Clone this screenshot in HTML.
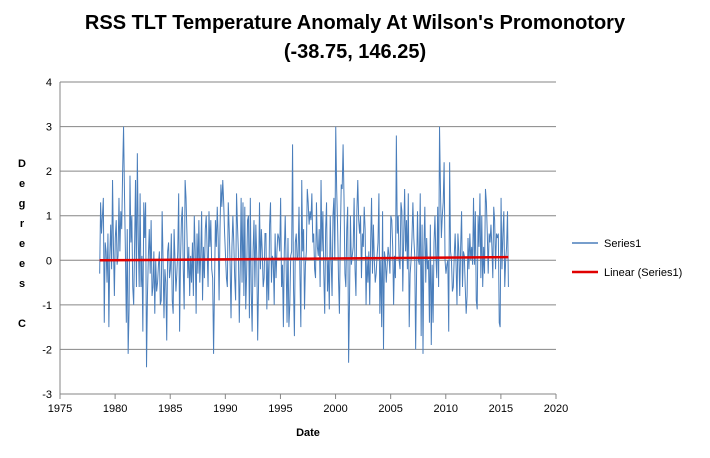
<!DOCTYPE html>
<html><head><meta charset="utf-8"><style>
body{margin:0;background:#fff;width:710px;height:453px;overflow:hidden;font-family:"Liberation Sans",Arial,sans-serif}
svg text{font-family:"Liberation Sans",Arial,sans-serif}
</style></head><body>
<svg width="710" height="453">
<text x="355" y="29" text-anchor="middle" font-size="20" font-weight="bold">RSS TLT Temperature Anomaly At Wilson's Promonotory</text>
<text x="355" y="58" text-anchor="middle" font-size="20" font-weight="bold">(-38.75, 146.25)</text>
<g id="grid"></g><g id="axes"></g>
<g font-size="11" font-weight="bold">
<text x="22" y="167" text-anchor="middle">D</text><text x="22" y="187" text-anchor="middle">e</text><text x="22" y="207" text-anchor="middle">g</text><text x="22" y="227" text-anchor="middle">r</text><text x="22" y="247" text-anchor="middle">e</text><text x="22" y="267" text-anchor="middle">e</text><text x="22" y="287" text-anchor="middle">s</text><text x="22" y="327" text-anchor="middle">C</text></g>
<text x="308" y="436" text-anchor="middle" font-size="11" font-weight="bold">Date</text>
<polyline id="series" fill="none" stroke="#4a7ebb" stroke-width="1"/>
<line id="trend" stroke="#e00000" stroke-width="2.5"/>
<g>
<line x1="572" y1="243" x2="598" y2="243" stroke="#4a7ebb" stroke-width="1.5"/>
<text x="604" y="247" font-size="11">Series1</text>
<line x1="572" y1="272" x2="598" y2="272" stroke="#e00000" stroke-width="2.5"/>
<text x="604" y="276" font-size="11">Linear (Series1)</text></g>
</svg>
<script>
const startYear = 1978.6;
const yTicks = [4,3,2,1,0,-1,-2,-3];
const xTicks = [1975,1980,1985,1990,1995,2000,2005,2010,2015,2020];
const trendStart = 0.0, trendEnd = 0.07;
const values = [
-0.3,1.3,0.6,1.0,1.4,
-1.4,0.4,0.2,-0.5,0.6,-1.5,0.1,0.8,-0.2,1.8,0.3,-0.8,
0.5,0.9,-0.1,0.1,1.4,0.2,1.1,0.7,2.0,3.0,1.5,0.2,
-1.4,0.7,-2.1,-1.1,1.9,0.4,1.0,-0.6,-1.0,0.3,1.8,-0.6,
2.4,0.5,-0.6,1.5,-0.6,0.1,-1.6,1.3,0.5,1.3,-2.4,-0.8,
0.1,0.7,-0.3,0.9,-0.8,-0.6,0.2,-1.2,0.0,-0.7,-0.5,-0.1,
0.2,-1.0,-0.9,1.1,0.0,-1.3,-0.2,-0.5,-1.8,0.2,0.4,-0.4,
-0.2,0.6,-0.9,-1.2,0.7,0.0,-0.7,-0.3,0.2,1.5,-1.6,0.0,
0.9,1.2,-0.2,-1.1,1.8,1.4,0.6,-0.4,0.3,-0.8,0.1,-0.5,
0.4,-0.8,1.0,0.2,-1.2,0.6,-0.3,0.9,-0.5,0.1,1.1,-0.9,0.3,-0.4,
0.7,1.0,0.2,-0.6,1.1,0.3,0.9,-0.2,-0.4,-2.1,-0.6,0.9,
0.3,1.2,0.5,-0.9,0.7,1.7,1.2,1.8,1.3,0.6,0.1,-0.4,
-0.6,1.3,0.7,-0.1,-1.3,0.3,1.0,0.4,-0.4,-0.9,1.5,0.8,
0.2,-1.4,-0.2,1.4,-0.5,1.3,-0.8,1.2,-1.1,-0.3,0.9,1.0,
-1.3,1.4,-0.7,-1.6,0.2,0.9,-0.6,0.8,0.1,-1.8,-0.5,1.3,
-0.2,0.7,0.2,-0.6,-0.4,0.6,0.6,-1.1,0.0,-0.9,0.8,1.3,
-0.5,0.1,0.0,-1.0,0.6,-0.4,0.2,0.6,0.5,0.2,1.4,-0.6,
-0.1,-1.5,0.2,1.0,-0.1,-1.4,0.5,-1.5,-1.0,0.1,0.2,2.6,
-0.6,-1.7,0.4,0.6,0.0,0.1,1.2,-0.3,-1.5,1.8,0.2,0.7,
-1.1,-0.1,0.2,1.6,1.3,0.8,1.1,0.9,1.5,0.4,0.6,-0.2,
-0.4,1.3,0.3,0.1,0.7,-0.6,1.8,0.2,1.1,-0.3,-1.2,0.7,
1.3,-0.7,0.0,-1.1,1.0,0.0,-0.8,1.0,1.4,0.0,3.0,1.6,
0.8,-0.4,-1.2,0.5,1.7,1.6,2.6,1.4,-0.3,-0.6,0.7,1.2,
-2.3,-0.9,1.0,-0.1,0.1,0.3,1.4,-0.2,-0.8,1.1,1.8,0.9,
0.6,1.0,-0.4,0.6,0.3,1.2,0.7,-1.0,0.1,-0.5,0.2,-1.0,
0.4,1.4,-0.3,0.8,0.0,-0.5,-0.3,0.1,0.4,1.5,-1.2,0.0,
-1.5,1.1,-2.0,0.2,0.0,-0.5,-0.1,0.3,0.1,-0.3,1.0,0.9,
0.3,-1.0,0.1,-0.4,2.8,0.6,1.0,0.0,-0.2,1.3,1.1,-0.7,
0.5,1.6,0.2,0.9,-0.2,1.5,-1.5,-0.3,0.0,0.5,1.3,0.5,
0.1,-2.0,-0.3,1.1,0.0,-0.1,1.5,-1.7,0.8,-2.1,0.3,1.2,
-0.5,0.5,-0.2,0.0,-1.4,0.8,-1.9,-0.1,-1.4,0.4,1.0,0.1,
-0.4,1.2,-0.6,3.0,1.6,0.5,1.0,1.3,2.2,0.0,-0.3,-0.1,
0.0,-1.6,
2.2,0.2,0.0,-0.7,-0.6,0.1,0.6,-0.1,-1.0,0.6,0.2,-0.8,
0.3,1.1,-0.6,0.2,0.1,-0.6,-1.2,-0.8,0.5,-0.2,0.6,0.0,
0.3,-0.1,1.4,-0.1,1.1,-0.9,-1.1,1.0,0.3,1.5,-0.4,1.0,
-0.6,0.3,-0.3,1.6,1.3,0.6,-0.3,0.6,0.4,0.8,0.3,-0.4,
1.2,0.9,-0.2,0.6,0.5,0.6,-1.4,-1.5,1.4,-0.2,0.6,1.1,
-0.6,0.0,0.3,1.1,-0.6
];
const X0=60,X1=556,Y0=394,Y1=82;
const xs=v=>X0+(v-1975)/(2020-1975)*(X1-X0);
const ys=v=>Y0-(v-(-3))/(4-(-3))*(Y0-Y1);
const NS="http://www.w3.org/2000/svg";
const grid=document.getElementById('grid'), axes=document.getElementById('axes');
yTicks.forEach(t=>{
  const l=document.createElementNS(NS,'line');
  l.setAttribute('x1',X0);l.setAttribute('x2',X1);l.setAttribute('y1',ys(t));l.setAttribute('y2',ys(t));
  l.setAttribute('stroke','#868686');l.setAttribute('stroke-width','1');
  
  
  grid.appendChild(l);
  const tx=document.createElementNS(NS,'text');
  tx.setAttribute('x',X0-8);tx.setAttribute('y',ys(t)+4);tx.setAttribute('text-anchor','end');tx.setAttribute('font-size','11');
  tx.textContent=t;
  
  
  axes.appendChild(tx);
});
const va=document.createElementNS(NS,'line');
va.setAttribute('x1',X0);va.setAttribute('x2',X0);va.setAttribute('y1',Y1);va.setAttribute('y2',Y0);va.setAttribute('stroke','#868686');


axes.appendChild(va);
xTicks.forEach(t=>{
  const k=document.createElementNS(NS,'line');
  k.setAttribute('x1',xs(t));k.setAttribute('x2',xs(t));k.setAttribute('y1',Y0);k.setAttribute('y2',Y0+5);k.setAttribute('stroke','#868686');
  
  
  axes.appendChild(k);
  const tx=document.createElementNS(NS,'text');
  tx.setAttribute('x',xs(t));tx.setAttribute('y',Y0+18);tx.setAttribute('text-anchor','middle');tx.setAttribute('font-size','11');
  tx.textContent=t;
  
  
  axes.appendChild(tx);
});
const pts=values.map((v,i)=>xs(startYear+i/12).toFixed(2)+','+ys(v).toFixed(2)).join(' ');
document.getElementById('series').setAttribute('points',pts);
const tr=document.getElementById('trend');
const endYear=startYear+(values.length-1)/12;
tr.setAttribute('x1',xs(startYear));tr.setAttribute('y1',ys(trendStart));
tr.setAttribute('x2',xs(endYear));tr.setAttribute('y2',ys(trendEnd));
</script>
</body></html>
